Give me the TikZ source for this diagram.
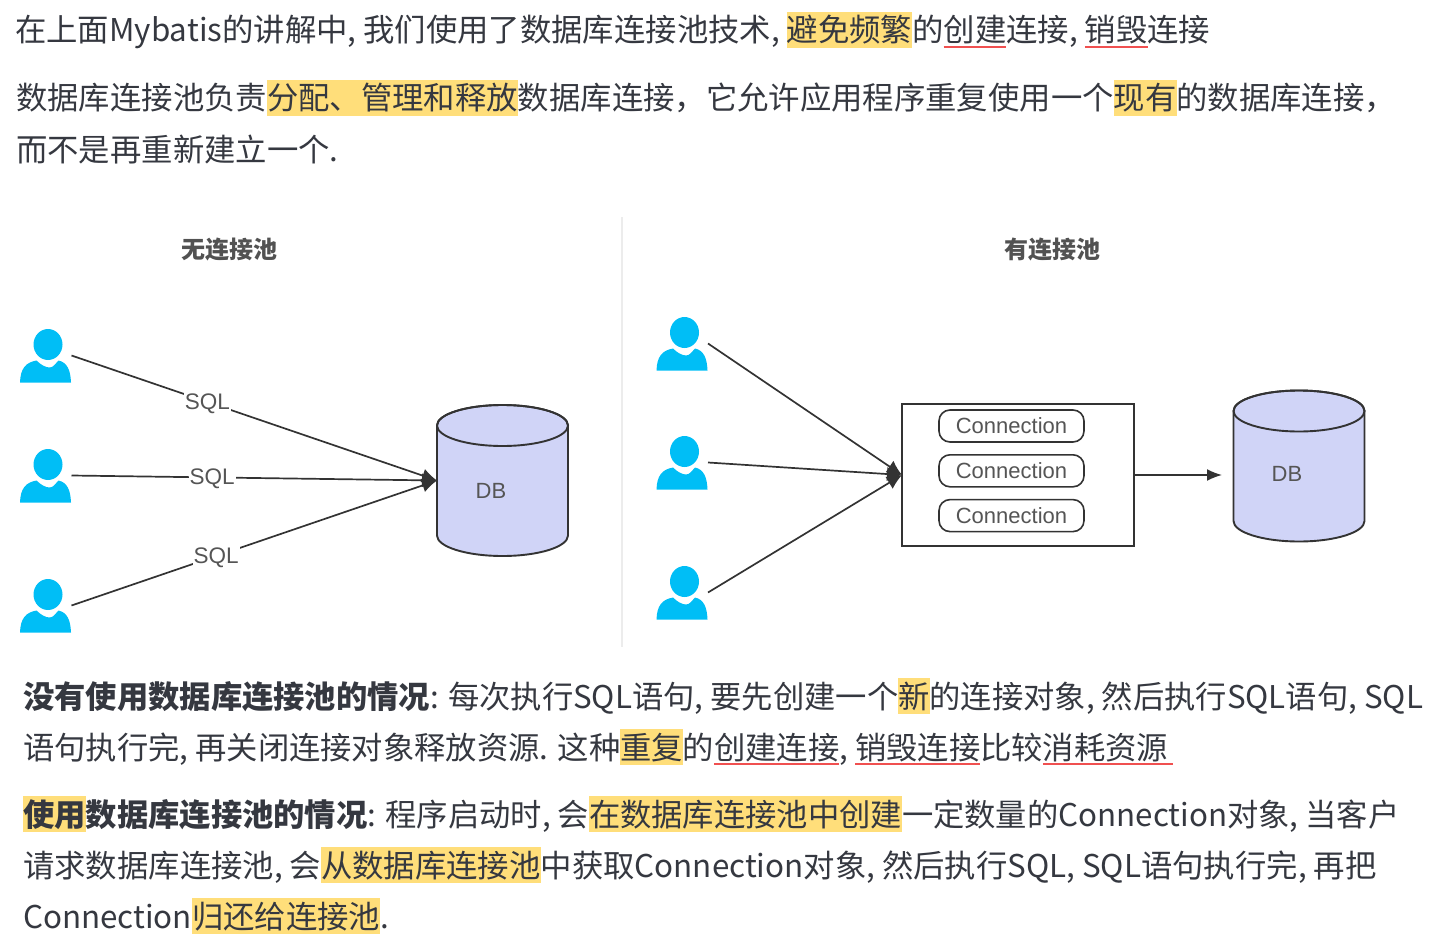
\documentclass[tikz,border=0pt]{standalone}
\usepackage{fontspec}
\usepackage{xcolor}
\setmainfont{Noto Sans CJK SC}
\newfontfamily\figfont{Liberation Sans}
\usetikzlibrary{arrows.meta,positioning}

\definecolor{hlyellow}{HTML}{FFDE7A}
\definecolor{redline}{HTML}{F05050}
\definecolor{bodytext}{HTML}{353840}
\definecolor{iconblue}{HTML}{00BEF6}
\definecolor{dbfill}{HTML}{D0D4F7}
\definecolor{linegray}{HTML}{333333}
\definecolor{figtext}{HTML}{555555}

% 高亮 + 红色下划线
\newcommand{\hlmark}[1]{{\setlength{\fboxsep}{0pt}\colorbox{hlyellow}{\rule[-6pt]{0pt}{36pt}#1}}}
\newcommand{\ulmark}[1]{\setbox0=\hbox{#1}\rlap{\color{redline}\rule[-6pt]{\wd0}{2pt}}\box0}

\tikzset{
  txtline/.style={anchor=base west, inner sep=0pt, text=bodytext, font=\fontsize{31.36}{36}\selectfont},
  lowline/.style={txtline, font=\fontsize{31.3}{36}\selectfont},
  figlabel/.style={inner sep=0pt, text=figtext, font=\figfont\fontsize{22}{26}\selectfont},
  figtitle/.style={inner sep=0pt, text=linegray!85, font=\bfseries\fontsize{24}{28}\selectfont},
  sqllabel/.style={figlabel, font=\figfont\fontsize{22.5}{26}\selectfont, fill=white, inner xsep=1pt, inner ysep=3pt},
  flow/.style={draw=linegray, line width=1.7pt, -{Latex[length=15pt,width=14pt]}},
  connbox/.style={figlabel, draw=linegray, line width=1.6pt, rounded corners=11pt, fill=white,
    minimum width=145pt, minimum height=32pt},
  poolbox/.style={draw=linegray, line width=1.7pt, fill=white, minimum width=232pt, minimum height=142pt,
    inner sep=0pt, outer sep=0pt},
  userpic/.pic={
    \fill[iconblue] (2.5,0) ellipse (14.5 and 15.5);
    \fill[iconblue] (-25.5,38) .. controls (-25,24) and (-20,18) .. (-9,16)
      .. controls (-5,20) and (0,23) .. (4,23) .. controls (8,23) and (10,19) .. (13,16)
      .. controls (22,18) and (25,26) .. (25.5,38) -- cycle;
    \coordinate (-out) at (26,11);
  },
  dbpic/.pic={
    \draw[linegray, line width=1.9pt, fill=dbfill] (-65.5,-55) -- (-65.5,55)
      .. controls (-65.5,66.3) and (-36.2,75.5) .. (0,75.5)
      .. controls (36.2,75.5) and (65.5,66.3) .. (65.5,55) -- (65.5,-55)
      .. controls (65.5,-66.3) and (36.2,-75.5) .. (0,-75.5)
      .. controls (-36.2,-75.5) and (-65.5,-66.3) .. (-65.5,-55) -- cycle;
    \draw[linegray, line width=1.9pt] (0,-55) ellipse (65.5 and 20.5);
    \coordinate (-in) at (-65.5,0);
  }
}

\begin{document}
\begin{tikzpicture}[x=1pt,y=-1pt]
  \useasboundingbox (0,0) rectangle (1432,934);
  % 上方文字
  \node[txtline] (tline) at (15,42) {在上面Mybatis的讲解中, 我们使用了数据库连接池技术, \hlmark{避免频繁}的\ulmark{创建}连接, \ulmark{销毁}连接};
  \node[txtline] (tlineb) at (16,110) {数据库连接池负责\hlmark{分配、管理和释放}数据库连接，它允许应用程序重复使用一个\hlmark{现有}的数据库连接，};
  \node[txtline] (tlinec) at (16,161) {而不是再重新建立一个.};

  \draw[gray!15, line width=1.5pt] (622,217) coordinate (sepa) -- (622,647) coordinate (sepb);
  \node[figtitle] (titlea) at (229,250) {无连接池};
  \node[figtitle] (titleb) at (1052,250) {有连接池};

  % 无连接池
  \foreach \nm/\py in {ua/344.5, ub/464.5, uc/594.5} {
    \pic (\nm) at (45.5,\py) {userpic};
  }
  \pic (dba) at (502.5,480.5) {dbpic};
  \node[figlabel] (dbatext) at (491,491) {DB};
  \draw[flow] (ua-out) -- node[sqllabel, pos=0.372, yshift=-1.5pt] (sqla) {SQL} (dba-in);
  \draw[flow] (ub-out) -- node[sqllabel, pos=0.385, yshift=-1pt] (sqlb) {SQL} (dba-in);
  \draw[flow] (uc-out) -- node[sqllabel, pos=0.396, yshift=-1.5pt] (sqlc) {SQL} (dba-in);

  % 有连接池
  \foreach \nm/\py in {va/332.5, vb/451.5, vc/581.5} {
    \pic (\nm) at (682,\py) {userpic};
  }
  \node[poolbox] (pool) at (1018,475) {};
  \node[connbox] (conna) at (1011.5,426) {Connection};
  \node[connbox, below=11.2pt of conna] (connb) {Connection};
  \node[connbox, below=11.2pt of connb] (connc) {Connection};
  \foreach \nm in {va,vb,vc} {
    \draw[flow] (\nm-out) -- (pool.west);
  }
  \pic (dbb) at (1299,466) {dbpic};
  \node[figlabel] (dbbtext) at (1287,474) {DB};
  \coordinate (dbbin) at (1222,475);
  \draw[flow, -{Latex[length=15pt,width=12pt]}] (pool.east) -- (dbbin);

  % 下方文字
  \node[lowline] (bline) at (23,708) {\textbf{没有使用数据库连接池的情况}: 每次执行SQL语句, 要先创建一个\hlmark{新}的连接对象, 然后执行SQL语句, SQL};
  \node[lowline] (blineb) at (23,759) {语句执行完, 再关闭连接对象释放资源. 这种\hlmark{重复}的\ulmark{创建连接}, \ulmark{销毁连接}比较\ulmark{消耗资源\kern5pt}};
  \node[lowline] (blinec) at (23,826) {\hlmark{\textbf{使用}}\textbf{数据库连接池的情况}: 程序启动时, 会\hlmark{在数据库连接池中创建}一定数量的Connection对象, 当客户};
  \node[txtline] (blined) at (23,877) {请求数据库连接池, 会\hlmark{从数据库连接池}中获取Connection对象, 然后执行SQL, SQL语句执行完, 再把};
  \node[txtline] (blinee) at (23,928) {Connection\hlmark{归还给连接池}.};
\end{tikzpicture}
\end{document}
